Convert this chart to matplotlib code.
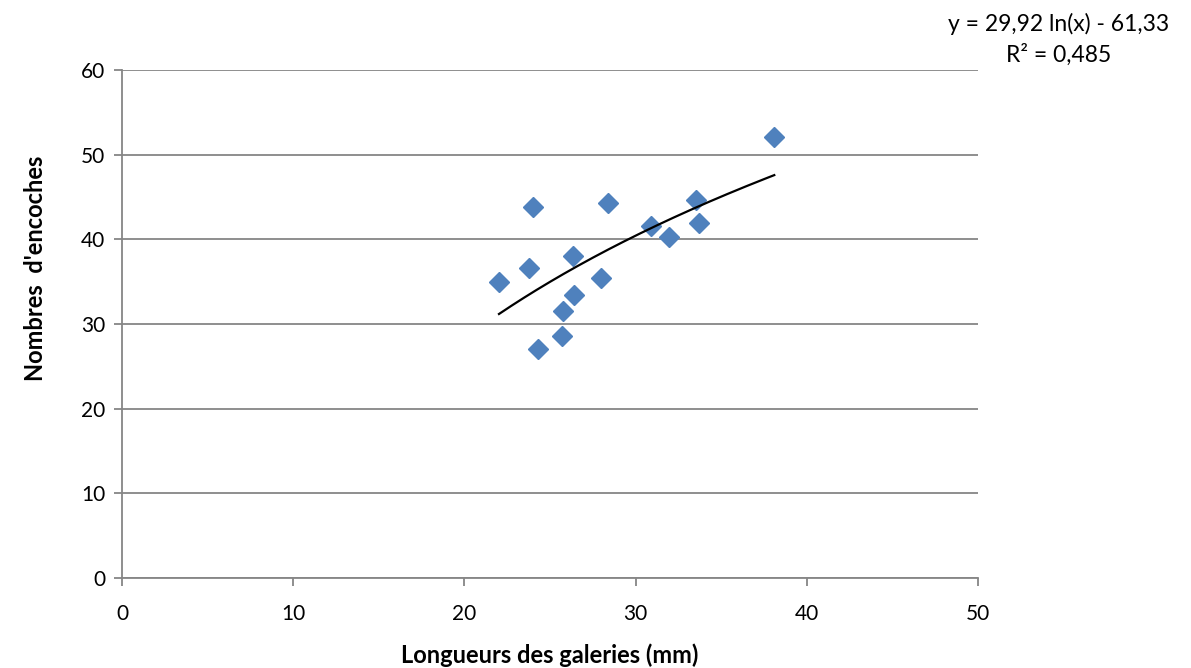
import numpy as np
import matplotlib.pyplot as plt

# Longueurs des galeries (mm) et nombres d'encoches
longueurs = [22.02, 23.79, 23.99, 24.28, 25.74, 25.72, 26.33, 26.42,
             27.98, 28.41, 30.88, 31.97, 33.53, 33.72, 38.10]
encoches = [35.0, 36.6, 43.8, 27.1, 31.5, 28.6, 38.0, 33.4,
            35.4, 44.25, 41.6, 40.3, 44.6, 41.9, 52.05]

# Courbe de tendance logarithmique
coef_a, coef_b = 29.92, -61.33
r2 = 0.485

x_ticks = [0, 10, 20, 30, 40, 50]
y_ticks = [0, 10, 20, 30, 40, 50, 60]

plt.rcParams['font.family'] = ['Lato', 'DejaVu Sans']
gris = '#868686'

fig = plt.figure(figsize=(11.91, 6.68), dpi=100)
ax = fig.add_axes([122 / 1191, 90 / 668, 856 / 1191, 508 / 668])

ax.set_xlim(0, 50)
ax.set_ylim(0, 60)
ax.set_xticks(x_ticks)
ax.set_yticks(y_ticks)
ax.yaxis.grid(True, color=gris, linewidth=1.3)
ax.set_axisbelow(True)

for cote in ['top', 'right']:
    ax.spines[cote].set_visible(False)
for cote in ['left', 'bottom']:
    ax.spines[cote].set_color(gris)
    ax.spines[cote].set_linewidth(1.3)
ax.tick_params(axis='both', colors=gris, length=6, width=1.3, labelsize=15,
               labelcolor='black')
ax.tick_params(axis='x', pad=13)
ax.tick_params(axis='y', pad=6)

# Points
ax.plot(longueurs, encoches, linestyle='none', marker='D', markersize=10,
        color='#4F81BD', markeredgecolor='#4F81BD', zorder=3)

# Tendance
xt = np.linspace(min(longueurs), max(longueurs), 200)
ax.plot(xt, coef_a * np.log(xt) + coef_b, color='black', linewidth=1.6, zorder=4)

fig.text(550 / 1191, 1 - 655 / 668, 'Longueurs des galeries (mm)', fontsize=17,
         fontweight='bold', ha='center', va='center')
fig.text(36 / 1191, 1 - 268 / 668, "Nombres  d'encoches", rotation=90, fontsize=17,
         fontweight='bold', ha='center', va='center')

fig.text(1059 / 1191, 1 - 24 / 668,
         f"y = {coef_a:.2f} ln(x) - {abs(coef_b):.2f}".replace('.', ','),
         fontsize=16.5, ha='center', va='center')
fig.text(1059 / 1191, 1 - 55 / 668, f"R² = {r2:.3f}".replace('.', ','),
         fontsize=16.5, ha='center', va='center')

fig.savefig('out.png', dpi=100)
